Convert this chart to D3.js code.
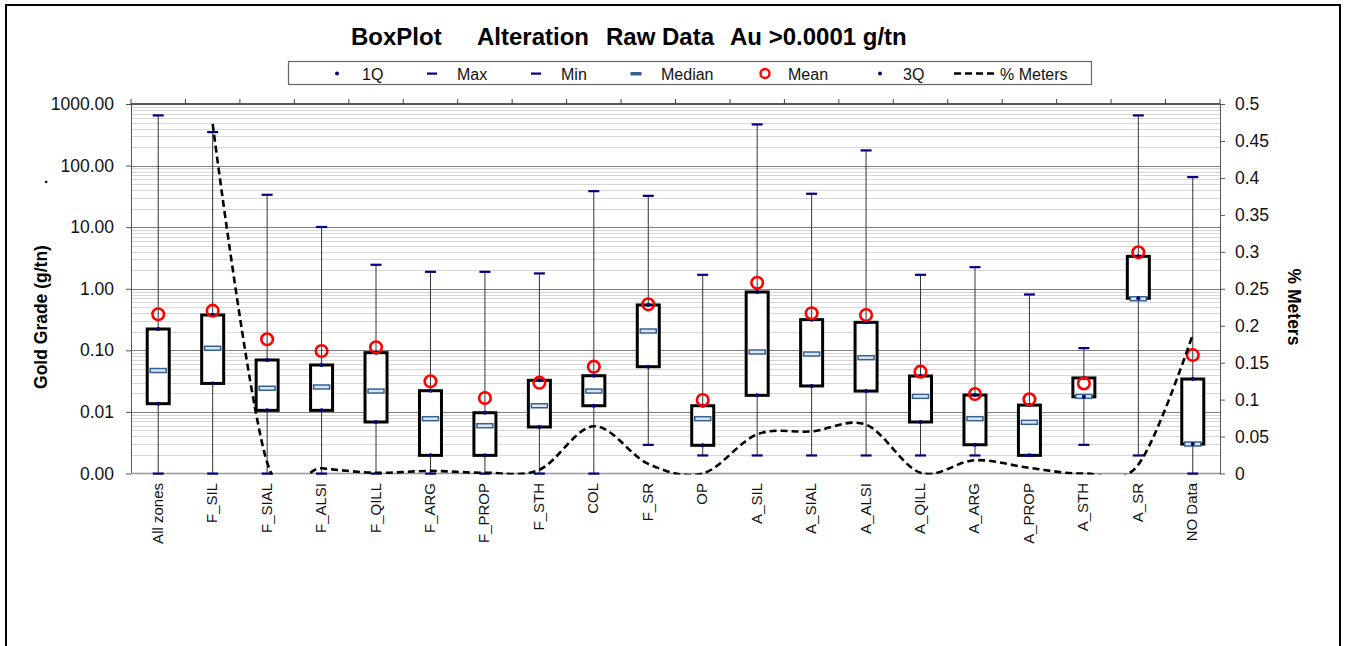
<!DOCTYPE html>
<html><head><meta charset="utf-8">
<script src="https://cdn.jsdelivr.net/npm/d3@7"></script>
<style>body{margin:0;background:#fff;font-family:"Liberation Sans",Arial,sans-serif}</style>
</head><body><svg id="c" width="1347" height="646"></svg>
<script>
const categories = ["All zones","F_SIL","F_SIAL","F_ALSI","F_QILL","F_ARG","F_PROP","F_STH","COL","F_SR","OP","A_SIL","A_SIAL","A_ALSI","A_QILL","A_ARG","A_PROP","A_STH","A_SR","NO Data"];
const maxVals    = [655, 351, 33.7, 10.1, 2.46, 1.89, 1.89, 1.78, 38.6, 32.4, 1.69, 468, 35, 177, 1.69, 2.25, 0.81, 0.109, 655, 65.3];
const q3Vals     = [0.222, 0.375, 0.0697, 0.0578, 0.0916, 0.0221, 0.0097, 0.0326, 0.0387, 0.545, 0.0126, 0.885, 0.315, 0.285, 0.0383, 0.0188, 0.0129, 0.0356, 3.36, 0.0342];
const medianVals = [0.047, 0.108, 0.0242, 0.0254, 0.0218, 0.00776, 0.00597, 0.0126, 0.0218, 0.206, 0.00776, 0.094, 0.0871, 0.0759, 0.0179, 0.00776, 0.00678, 0.0179, 0.689, 0.00301];
const q1Vals     = [0.0136, 0.029, 0.0106, 0.0106, 0.00686, 0.00197, 0.00197, 0.00569, 0.0126, 0.0542, 0.00287, 0.0186, 0.0264, 0.0218, 0.00686, 0.00293, 0.00197, 0.0176, 0.70, 0.0030];
const minVals    = [0.001, 0.001, 0.001, 0.001, 0.001, 0.001, 0.001, 0.001, 0.001, 0.00293, 0.00197, 0.00197, 0.00197, 0.00197, 0.00197, 0.00197, 0.00197, 0.00293, 0.00197, 0.001];
const meanVals   = [0.385, 0.44, 0.151, 0.0975, 0.112, 0.0314, 0.0168, 0.0298, 0.0542, 0.559, 0.0156, 1.25, 0.40, 0.375, 0.045, 0.0195, 0.016, 0.029, 3.9, 0.084];
const meterVals  = [null, 0.473, 0.015, 0.007, 0.001, 0.0035, 0.001, 0.005, 0.064, 0.013, 0.0, 0.053, 0.057, 0.066, 0.001, 0.018, 0.0076, 0.0, 0.012, 0.188];
const leftTicks  = [0.001, 0.01, 0.1, 1, 10, 100, 1000];
const rightTicks = [0, 0.05, 0.1, 0.15, 0.2, 0.25, 0.3, 0.35, 0.4, 0.45, 0.5];
const legendItems = ["1Q","Max","Min","Median","Mean","3Q","% Meters"];
const titleParts = ["BoxPlot","Alteration","Raw Data","Au >0.0001 g/tn"];

const svg = d3.select("#c");
const L = 131, R = 1220, T = 104, B = 473.5;
const font = '"Liberation Sans",Arial,sans-serif';

// frame
svg.append("rect").attr("x",6).attr("y",5).attr("width",1334).attr("height",660)
  .attr("fill","none").attr("stroke","#000").attr("stroke-width",2);

const x = d3.scaleBand().domain(categories).range([L, R]).padding(0);
const y = d3.scaleLog().domain([0.001, 1000]).range([B, T]);
const y2 = d3.scaleLinear().domain([0, 0.5]).range([B, T]);

// minor gridlines
const minor = [];
for (let e = -3; e < 3; e++) for (let m = 2; m <= 9; m++) minor.push(m * Math.pow(10, e));
svg.append("g").selectAll("line").data(minor).join("line")
  .attr("x1", L).attr("x2", R).attr("y1", d => Math.round(y(d)) + 0.5).attr("y2", d => Math.round(y(d)) + 0.5)
  .attr("stroke", "#d6d6d6").attr("stroke-width", 1);
// major gridlines
svg.append("g").selectAll("line").data(leftTicks.slice(1, -1)).join("line")
  .attr("x1", L).attr("x2", R).attr("y1", d => Math.round(y(d)) + 0.5).attr("y2", d => Math.round(y(d)) + 0.5)
  .attr("stroke", "#7f7f7f").attr("stroke-width", 1.2);

// axes
const gl = svg.append("g").attr("transform", `translate(${L},0)`)
  .call(d3.axisLeft(y).tickValues(leftTicks).tickFormat(d3.format(".2f")).tickSize(5).tickSizeOuter(0).tickPadding(12));
gl.select(".domain").attr("stroke", "#555");
gl.selectAll(".tick line").attr("stroke", "#555");
gl.selectAll("text").attr("font-family", font).attr("font-size", 17.5).attr("fill", "#111");

const gr = svg.append("g").attr("transform", `translate(${R},0)`)
  .call(d3.axisRight(y2).tickValues(rightTicks).tickFormat(d => String(+d.toFixed(2))).tickSize(5).tickSizeOuter(0).tickPadding(10));
gr.select(".domain").attr("stroke", "#555");
gr.selectAll(".tick line").attr("stroke", "#555");
gr.selectAll("text").attr("font-family", font).attr("font-size", 17.5).attr("fill", "#111");

// top axis with boundary ticks
const bounds = categories.map(c => x(c)).concat([R]);
svg.append("line").attr("x1", L).attr("x2", R).attr("y1", T).attr("y2", T).attr("stroke", "#222").attr("stroke-width", 1.5);
svg.append("g").selectAll("line").data(bounds).join("line")
  .attr("x1", d => d).attr("x2", d => d).attr("y1", T).attr("y2", T - 5).attr("stroke", "#444");
// bottom axis
svg.append("line").attr("x1", L).attr("x2", R).attr("y1", B).attr("y2", B).attr("stroke", "#999").attr("stroke-width", 1.5);
const cx = c => x(c) + x.bandwidth() / 2;
svg.append("g").selectAll("text").data(categories).join("text")
  .attr("transform", d => `translate(${cx(d) + 4.5},483) rotate(-90)`)
  .attr("text-anchor", "end").attr("font-family", font).attr("font-size", 15).attr("fill", "#111").text(d => d);

// boxes
const rows = categories.map((c, i) => ({c, max: maxVals[i], q3: q3Vals[i], med: medianVals[i], q1: q1Vals[i], min: minVals[i], mean: meanVals[i]}));
const g = svg.append("g");
g.selectAll(".wh").data(rows).join("line")
  .attr("x1", d => cx(d.c)).attr("x2", d => cx(d.c)).attr("y1", d => y(d.min)).attr("y2", d => y(d.max))
  .attr("stroke", "#333").attr("stroke-width", 1);
g.selectAll(".bx").data(rows).join("rect")
  .attr("x", d => cx(d.c) - 11).attr("width", 22)
  .attr("y", d => y(d.q3)).attr("height", d => Math.max(1, y(d.q1) - y(d.q3)))
  .attr("fill", "#fff").attr("stroke", "#000").attr("stroke-width", 3);
g.selectAll(".md").data(rows).join("rect")
  .attr("x", d => cx(d.c) - 8).attr("width", 16).attr("y", d => y(d.med) - 2).attr("height", 4)
  .attr("fill", "#dce6f2").attr("stroke", "#36618f").attr("stroke-width", 1.5);
g.selectAll(".q1").data(rows).join("circle").attr("cx", d => cx(d.c)).attr("cy", d => y(d.q1)).attr("r", 2).attr("fill", "#000080");
g.selectAll(".q3").data(rows).join("circle").attr("cx", d => cx(d.c)).attr("cy", d => y(d.q3)).attr("r", 2).attr("fill", "#000080");
g.selectAll(".mx").data(rows).join("rect").attr("x", d => cx(d.c) - 5.5).attr("width", 11).attr("y", d => y(d.max) - 1).attr("height", 2.2).attr("fill", "#000080");
g.selectAll(".mn").data(rows).join("rect").attr("x", d => cx(d.c) - 5.5).attr("width", 11).attr("y", d => y(d.min) - 1).attr("height", 2.2).attr("fill", "#000080");
g.selectAll(".mean").data(rows).join("circle").attr("cx", d => cx(d.c)).attr("cy", d => y(d.mean)).attr("r", 5.8)
  .attr("fill", "none").attr("stroke", "#ff0000").attr("stroke-width", 2.6);

// % meters line
svg.append("clipPath").attr("id", "pc").append("rect").attr("x", L).attr("y", T).attr("width", R - L).attr("height", B - T + 1);
const md = categories.map((c, i) => ({c, v: meterVals[i]})).filter(d => d.v != null);
svg.append("path").datum(md).attr("clip-path", "url(#pc)")
  .attr("d", d3.line().x(d => cx(d.c)).y(d => y2(d.v)).curve(d3.curveCardinal.tension(0)))
  .attr("fill", "none").attr("stroke", "#000").attr("stroke-width", 2.6).attr("stroke-dasharray", "7,4");

// titles
const titleX = [351, 477, 606, 730];
titleParts.forEach((t, i) => {
  svg.append("text").attr("x", titleX[i]).attr("y", 45).attr("font-family", font)
    .attr("font-size", 24).attr("font-weight", "bold").attr("fill", "#000").text(t);
});
svg.append("text").attr("transform", "translate(47,317) rotate(-90)").attr("text-anchor", "middle")
  .attr("font-family", font).attr("font-size", 17.5).attr("font-weight", "bold").text("Gold Grade (g/tn)");
svg.append("text").attr("x", 44).attr("y", 183).attr("font-family", font).attr("font-size", 15).attr("font-weight", "bold").text(".");
svg.append("text").attr("transform", "translate(1288,307) rotate(90)").attr("text-anchor", "middle")
  .attr("font-family", font).attr("font-size", 17.5).attr("font-weight", "bold").text("% Meters");

// legend
const lg = svg.append("g");
lg.append("rect").attr("x", 288.5).attr("y", 61.5).attr("width", 803).attr("height", 23).attr("fill", "#fff").attr("stroke", "#666").attr("stroke-width", 1.2);
const lx = {"1Q": [337, 362], "Max": [432, 457], "Min": [536, 561], "Median": [636, 661], "Mean": [765, 788], "3Q": [880, 903], "% Meters": [975, 1000]};
const ly = 73.5;
legendItems.forEach(k => {
  const [mx, tx] = lx[k];
  if (k === "1Q" || k === "3Q") lg.append("circle").attr("cx", mx).attr("cy", ly).attr("r", 2).attr("fill", "#000080");
  else if (k === "Max" || k === "Min") lg.append("rect").attr("x", mx - 5).attr("y", ly - 1).attr("width", 10).attr("height", 2.2).attr("fill", "#000080");
  else if (k === "Median") lg.append("rect").attr("x", mx - 5.5).attr("y", ly - 1.5).attr("width", 11).attr("height", 3.5).attr("fill", "#36618f");
  else if (k === "Mean") lg.append("circle").attr("cx", mx).attr("cy", ly).attr("r", 4.5).attr("fill", "none").attr("stroke", "#ff0000").attr("stroke-width", 2.4);
  else lg.append("line").attr("x1", 954).attr("x2", 997).attr("y1", ly).attr("y2", ly).attr("stroke", "#000").attr("stroke-width", 2.4).attr("stroke-dasharray", "7,4");
  lg.append("text").attr("x", tx).attr("y", 79.5).attr("font-family", font).attr("font-size", 16).attr("fill", "#111").text(k);
});
</script></body></html>
